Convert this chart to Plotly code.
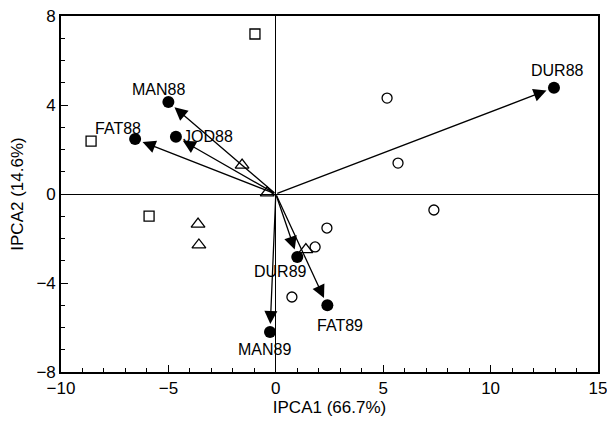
import plotly.graph_objects as go

# Variable (loading) points
var_names = ["DUR88", "MAN88", "FAT88", "JOD88", "DUR89", "FAT89", "MAN89"]
var_x = [12.95, -5.0, -6.55, -4.65, 1.0, 2.4, -0.27]
var_y = [4.78, 4.13, 2.47, 2.57, -2.83, -5.0, -6.2]

# Object groups
sq_x = [-0.97, -8.6, -5.9]
sq_y = [7.19, 2.38, -0.99]
tri_x = [-1.57, -0.4, -3.62, -3.58, 1.4]
tri_y = [1.30, 0.05, -1.35, -2.29, -2.5]
circ_x = [5.18, 5.69, 7.36, 2.38, 1.83, 0.75]
circ_y = [4.31, 1.39, -0.72, -1.53, -2.38, -4.63]

# label offsets (pixels) and anchors
label_shift = {
    "DUR88": (4, 17, "center"),
    "MAN88": (-10, 13, "center"),
    "FAT88": (-17, 11, "center"),
    "JOD88": (5, 0, "left"),
    "DUR89": (-17, -15, "center"),
    "FAT89": (13, -20, "center"),
    "MAN89": (-6, -18, "center"),
}

FONT = "Liberation Sans, Arial"

fig = go.Figure()
fig.add_trace(go.Scatter(x=sq_x, y=sq_y, mode="markers",
                         marker=dict(symbol="square-open", size=10, color="black", line=dict(width=1.3))))
fig.add_trace(go.Scatter(x=tri_x, y=tri_y, mode="markers",
                         marker=dict(symbol="triangle-up-open", size=12, color="black", line=dict(width=1.3))))
fig.add_trace(go.Scatter(x=circ_x, y=circ_y, mode="markers",
                         marker=dict(symbol="circle-open", size=10, color="black", line=dict(width=1.3))))
fig.add_trace(go.Scatter(x=var_x, y=var_y, mode="markers",
                         marker=dict(symbol="circle", size=12, color="black")))

annotations = []
for n, x, y in zip(var_names, var_x, var_y):
    annotations.append(dict(x=x, y=y, ax=0, ay=0, xref="x", yref="y", axref="x", ayref="y",
                            showarrow=True, arrowhead=2, arrowsize=2.0, arrowwidth=1.3,
                            arrowcolor="black", standoff=8, text=""))
    dx, dy, anc = label_shift[n]
    annotations.append(dict(x=x, y=y, xref="x", yref="y", text=n, showarrow=False,
                            xshift=dx, yshift=dy, xanchor=anc,
                            font=dict(family=FONT, size=16, color="black")))

axis_common = dict(ticks="inside", ticklen=7, tickwidth=1.3, tickcolor="black", showgrid=False,
                   zeroline=True, zerolinecolor="black", zerolinewidth=1.4, showline=True,
                   linecolor="black", linewidth=1.6, mirror=True, automargin=False,
                   ticklabeloverflow="allow",
                   tickfont=dict(family=FONT, size=17, color="black"))

fig.update_layout(
    width=607, height=422,
    margin=dict(l=61, r=9, t=16, b=50),
    paper_bgcolor="white", plot_bgcolor="white",
    showlegend=False,
    annotations=annotations,
    font=dict(family=FONT, size=16, color="black"),
    xaxis=dict(range=[-10, 15], tickvals=[-10, -5, 0, 5, 10, 15],
               minor=dict(dtick=1, ticks="inside", ticklen=4, tickcolor="black", showgrid=False),
               title=dict(text="IPCA1 (66.7%)", font=dict(family=FONT, size=17), standoff=2),
               **axis_common),
    yaxis=dict(range=[-8, 8], tickvals=[-8, -4, 0, 4, 8],
               minor=dict(dtick=1, ticks="inside", ticklen=4, tickcolor="black", showgrid=False),
               title=dict(text="IPCA2 (14.6%)", font=dict(family=FONT, size=17), standoff=8),
               **axis_common),
)

fig.write_html("out.html", config={"displayModeBar": False},
               post_script="document.body.style.margin='0';")
